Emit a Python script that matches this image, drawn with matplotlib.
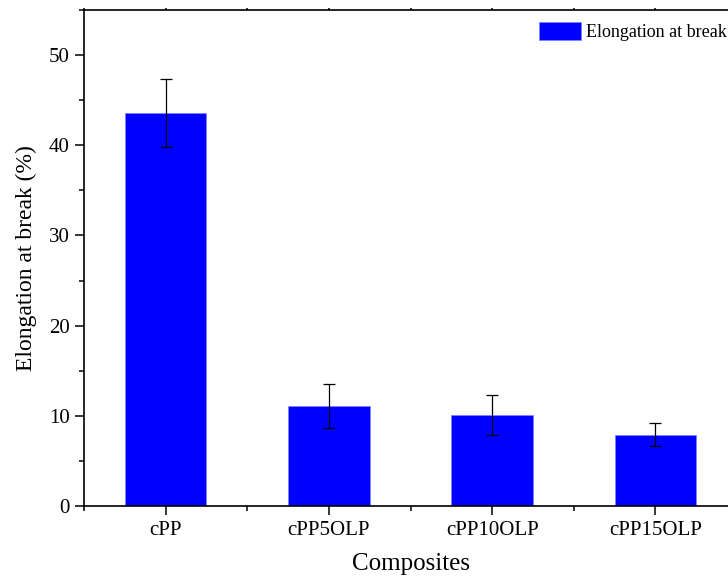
import numpy as np
import matplotlib
matplotlib.use('Agg')
import matplotlib.pyplot as plt
from matplotlib.ticker import MultipleLocator, FixedLocator

plt.rcParams['font.family'] = ['Liberation Serif', 'DejaVu Serif']

# values
composites = ['cPP', 'cPP5OLP', 'cPP10OLP', 'cPP15OLP']
elongation = [43.6, 11.1, 10.1, 7.9]
elong_err = [3.8, 2.4, 2.2, 1.3]

fig = plt.figure(figsize=(7.28, 5.86), dpi=100)
ax = fig.add_axes([0.1154, 0.1365, 0.897, 0.8465])

x = np.arange(len(composites))
ax.bar(x, elongation, width=0.5, color='#0000ff', edgecolor='#8080ff', linewidth=0.5,
       label='Elongation at break', zorder=2)
ax.errorbar(x, elongation, yerr=elong_err, fmt='none', ecolor='black',
            elinewidth=0.9, capsize=4, capthick=0.9, zorder=3)

ax.set_xlim(-0.5, 3.5)
ax.set_ylim(0, 55)
ax.set_xticks(x)
ax.set_xticklabels(composites)
ax.xaxis.set_minor_locator(FixedLocator([-0.5, 0.5, 1.5, 2.5, 3.5]))
ax.yaxis.set_major_locator(MultipleLocator(10))
ax.yaxis.set_minor_locator(MultipleLocator(5))

for s in ax.spines.values():
    s.set_linewidth(1.2)

ax.tick_params(axis='both', which='major', direction='out', length=6.5, width=1.1,
               labelsize=15, pad=4)
ax.tick_params(axis='both', which='minor', direction='out', length=3.5, width=1.1)
ax.tick_params(axis='x', which='both', top=True, labeltop=False)
# tiny marks along the top spine
for t in ax.xaxis.get_major_ticks() + ax.xaxis.get_minor_ticks():
    t.tick2line.set_markersize(1.5)

ax.set_xlabel('Composites', fontsize=18, labelpad=10)
ax.set_ylabel('Elongation at break (%)', fontsize=17, labelpad=8)

ax.legend(loc='upper right', bbox_to_anchor=(0.999, 0.962), bbox_transform=fig.transFigure,
          frameon=False, fontsize=13, handlelength=2.3, handleheight=1.1,
          handletextpad=0.3, borderpad=0, borderaxespad=0)

fig.savefig('out.png', dpi=100)
